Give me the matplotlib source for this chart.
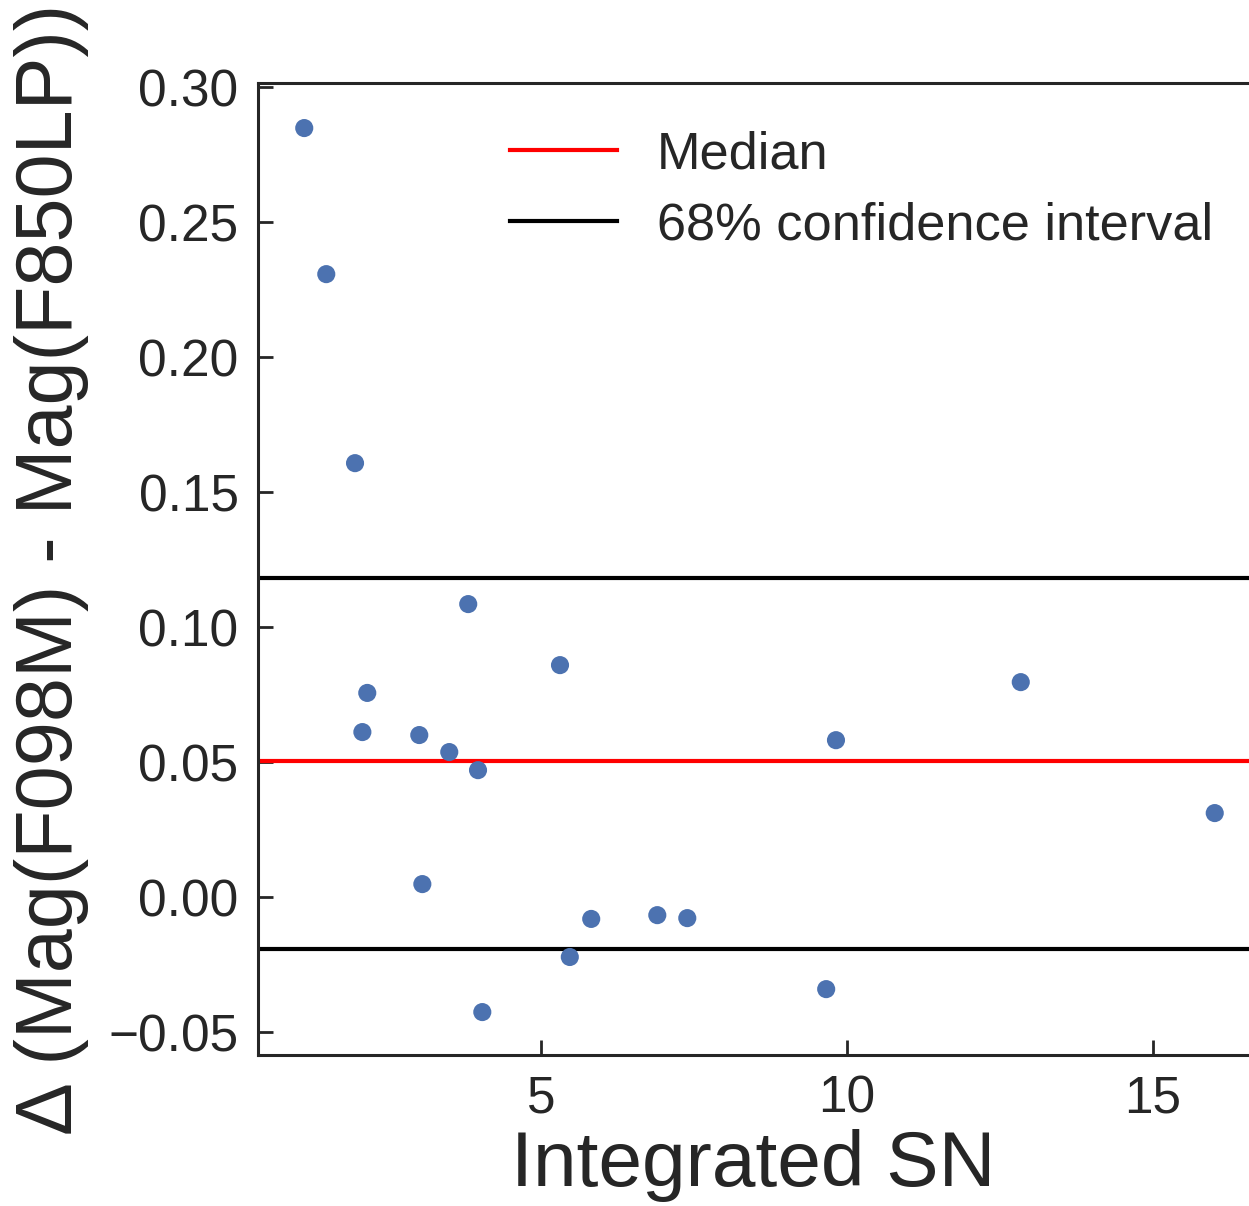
import matplotlib
matplotlib.use('Agg')
import matplotlib.pyplot as plt

# integrated S/N vs magnitude offset between the two filters
sn = [1.13, 1.49, 1.96, 3.81, 5.31, 2.16, 2.08, 3.01, 3.50, 3.97,
      3.06, 5.82, 6.90, 7.39, 5.47, 4.04, 9.66, 9.82, 12.84, 16.01]
dmag = [0.2848, 0.2307, 0.1607, 0.1085, 0.0859, 0.0756, 0.0611, 0.0600, 0.0537, 0.0470,
        0.0048, -0.0081, -0.0067, -0.0078, -0.0222, -0.0426, -0.0341, 0.0581, 0.0796, 0.0311]

median = 0.0504
ci_low = -0.0193
ci_high = 0.1181

plt.rcParams['font.family'] = ['Liberation Sans', 'DejaVu Sans']
plt.rcParams['text.color'] = '#262626'
plt.rcParams['axes.labelcolor'] = '#262626'
plt.rcParams['xtick.color'] = '#262626'
plt.rcParams['ytick.color'] = '#262626'

fig = plt.figure(figsize=(12.49, 12.06), dpi=100)
ax = fig.add_axes([0.2066, 0.1252, 0.7934, 0.806])

ax.scatter(sn, dmag, s=170, color='#4C72B0', edgecolors='none', zorder=3)
ax.axhline(median, color='red', lw=3, label='Median')
ax.axhline(ci_high, color='black', lw=3, label='68% confidence interval')
ax.axhline(ci_low, color='black', lw=3)

ax.set_xlim(0.375, 16.57)
ax.set_ylim(-0.0585, 0.3015)
ax.set_xticks([5, 10, 15])
ax.set_yticks([-0.05, 0.0, 0.05, 0.10, 0.15, 0.20, 0.25, 0.30])
ax.set_yticklabels(['\u22120.05', '0.00', '0.05', '0.10', '0.15', '0.20', '0.25', '0.30'])

ax.tick_params(axis='both', direction='in', length=11, width=2, labelsize=37, pad=14)
for side in ['left', 'bottom', 'top']:
    ax.spines[side].set_linewidth(2.2)
    ax.spines[side].set_color('#262626')
ax.spines['right'].set_visible(False)

ax.set_xlabel('Integrated SN', fontsize=56.5, labelpad=4)
ax.set_ylabel('\u0394 (Mag(F098M) - Mag(F850LP))', fontsize=57, labelpad=14)

ax.legend(loc='upper right', frameon=False, fontsize=37.7, handlelength=2.05,
          handletextpad=0.75, labelspacing=0.42, bbox_to_anchor=(1.011, 1.0))

fig.savefig('out.png', dpi=100)
